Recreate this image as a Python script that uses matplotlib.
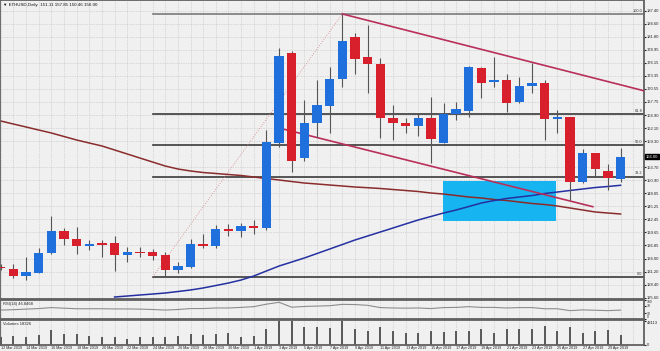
import numpy as np
import pandas as pd
import matplotlib
matplotlib.use("Agg")
import matplotlib.pyplot as plt
from matplotlib.patches import Rectangle

plt.rcParams["font.family"] = ["Liberation Sans", "DejaVu Sans"]

# ETHUSD daily, 12 Mar 2019 - 30 Apr 2019
dates = pd.date_range("2019-03-12", periods=50, freq="D")

opens = [132.28, 131.79, 130.35, 130.99, 135.17, 140.03, 138.18, 136.74, 137.32, 137.32,
         134.80, 135.51, 135.45, 134.80, 131.57, 132.28, 137.17, 136.74, 140.33, 140.00,
         141.00, 140.61, 158.98, 178.22, 155.75, 163.16, 166.88, 172.63, 181.80, 177.49,
         175.92, 164.23, 163.28, 162.57, 164.23, 158.98, 165.16, 165.87, 175.06, 172.05,
         172.48, 167.80, 171.18, 171.77, 164.15, 164.45, 150.58, 156.70, 152.95, 151.11]
highs = [132.86, 132.86, 134.44, 136.37, 143.20, 140.61, 140.83, 138.03, 138.03, 138.89,
         136.59, 136.59, 136.03, 135.51, 133.36, 138.18, 139.26, 141.26, 141.50, 141.60,
         142.40, 161.71, 179.30, 178.72, 168.17, 172.48, 175.34, 186.69, 182.53, 184.32,
         177.15, 167.09, 164.23, 165.31, 168.88, 167.46, 167.80, 175.49, 175.34, 177.36,
         173.77, 173.06, 176.07, 172.48, 166.02, 164.60, 157.56, 156.76, 154.33, 157.85]
lows = [131.57, 129.85, 129.42, 130.93, 135.10, 137.00, 135.02, 135.88, 134.44, 131.42,
        133.36, 134.44, 133.73, 130.13, 130.93, 132.00, 136.31, 136.31, 139.00, 138.60,
        139.30, 140.20, 158.12, 152.74, 155.10, 160.27, 161.00, 170.91, 173.77, 169.61,
        159.92, 159.56, 161.00, 160.42, 154.54, 158.85, 163.87, 164.58, 168.54, 170.90,
        165.65, 167.46, 169.74, 159.56, 161.13, 146.64, 150.37, 151.66, 148.79, 150.46]
closes = [131.94, 130.35, 131.08, 135.17, 140.03, 138.18, 136.74, 137.11, 137.02, 134.80,
          135.45, 135.30, 134.65, 131.57, 132.43, 137.17, 136.74, 140.33, 140.00, 141.00,
          140.60, 159.19, 177.64, 155.10, 163.16, 167.09, 172.69, 180.87, 177.00, 175.86,
          164.23, 163.28, 162.57, 164.23, 159.71, 165.16, 166.17, 175.21, 171.90, 172.48,
          167.46, 171.18, 171.77, 164.02, 164.45, 150.58, 156.70, 153.25, 151.44, 156.00]
volumes = [13150, 15600, 14370, 17430, 26600, 19260, 19260, 15600, 14370, 13150,
           9480, 13150, 13150, 14370, 15600, 19260, 17430, 19260, 20490, 14370,
           15600, 27830, 43113, 43113, 32720, 31500, 29660, 43113, 27830, 25380,
           32720, 25380, 21710, 21710, 25380, 22320, 25380, 25380, 27830, 20490,
           27830, 27830, 27830, 33940, 24770, 31500, 21710, 24770, 26600, 18326]
rsi = [47, 49, 52, 55, 60, 57, 54, 54, 54, 53, 53, 52, 50, 47, 50, 55, 55, 58, 58, 61,
       65, 78, 88, 62, 66, 68, 70, 77, 76, 72, 60, 58, 57, 58, 55, 60, 61, 65, 61, 61,
       58, 60, 60, 54, 54, 44, 48, 46, 44, 46.85]
ma_slow = [163.65, 163.00, 162.36, 161.71, 161.07, 160.31, 159.56, 158.91, 158.27, 157.41,
           156.55, 155.68, 154.82, 153.96, 153.32, 152.89, 152.56, 152.35, 152.13, 151.92,
           151.59, 151.27, 150.95, 150.62, 150.30, 150.09, 149.87, 149.66, 149.44, 149.29,
           149.12, 148.90, 148.69, 148.47, 148.15, 147.93, 147.61, 147.29, 147.07, 146.75,
           146.53, 146.21, 145.89, 145.67, 145.35, 144.92, 144.49, 144.06, 143.84, 143.63]
ma_fast = [np.nan] * 9 + [
    125.76, 125.97, 126.19, 126.40, 126.62, 126.94, 127.27, 127.70, 128.23, 128.77,
    129.42, 130.28, 131.36, 132.43, 133.29, 134.16, 135.12, 136.09, 137.06, 138.03,
    138.89, 139.75, 140.61, 141.48, 142.34, 143.09, 143.84, 144.49, 145.24, 146.00,
    146.53, 146.97, 147.29, 147.61, 148.04, 148.36, 148.69, 149.01, 149.33, 149.55, 149.81]

price_ticks = [187.40, 184.60, 181.80, 178.95, 176.15, 173.35, 170.55, 167.75, 164.90,
               162.10, 159.30, 153.70, 150.90, 148.05, 145.25, 142.45, 139.65, 136.85,
               134.00, 131.20, 128.40, 125.60]

# fibonacci from swing low to swing high
fib_t = [12, 27]
fib_p = [130.06, 186.70]
fib_levels = [0.0, 38.2, 50.0, 61.8, 100.0]
# channel lines
upper_t = [27, 51]
upper_p = [186.70, 170.05]
lower_t = [22.2, 46.8]
lower_p = [162.0, 145.2]
# zone box
box_t = [34.93, 43.89]
box_p = [142.2, 150.8]

W, H = 660, 351
bg = "#f0f0f0"
fig = plt.figure(figsize=(W / 100, H / 100), dpi=100, facecolor=bg)


def px_axes(x0, y0, x1, y1):
    return fig.add_axes([x0 / W, 1 - y1 / H, (x1 - x0) / W, (y1 - y0) / H])


ax = px_axes(0, 0, 644, 299)
ax_rsi = px_axes(0, 300, 644, 319)
ax_vol = px_axes(0, 320, 644, 345)

fs = 3.0
xlim = (-0.06, 50.85)
for a in (ax, ax_rsi, ax_vol):
    a.set_facecolor(bg)
    a.set_xlim(xlim)
    for s in a.spines.values():
        s.set_color("#606060")
        s.set_linewidth(1.3)
    for i in range(51):
        a.axvline(i, color="#bdbdbd", lw=0.5, ls=(0, (1, 1.5)), zorder=0)
    a.yaxis.tick_right()
    a.tick_params(axis="y", labelsize=fs, length=1.2, pad=0.8, colors="#222222")
    a.set_xticks([])

# main price panel
ax.set_ylim(125.33, 189.70)
ax.set_yticks(price_ticks)
ax.set_yticklabels(["%.2f" % p for p in price_ticks])
for p in price_ticks:
    ax.axhline(p, color="#bdbdbd", lw=0.5, ls=(0, (1, 1.5)), zorder=0)

x = np.arange(len(opens))
o = np.array(opens)
c = np.array(closes)
up = c >= o
bull, bear = "#1f6fdc", "#d8202c"
ax.vlines(x, lows, highs, color="#555555", lw=0.8, zorder=3)
body_h = np.maximum(np.abs(c - o), 0.25)
ax.bar(x, body_h, bottom=np.minimum(o, c), width=0.74,
       color=np.where(up, bull, bear), edgecolor="none", zorder=4)

# fibonacci levels
fib_range = fib_p[1] - fib_p[0]
for lv in fib_levels:
    y = fib_p[0] + fib_range * lv / 100
    col = "#7a7a7a" if lv == 100 else "#3a3a3a"
    ax.plot([fib_t[0], xlim[1]], [y, y], color=col, lw=1.2, zorder=2)
    ax.text(50.75, y + 0.25, "%.1f" % lv, ha="right", va="bottom", fontsize=2.8,
            color="#333333", zorder=6)
ax.plot(fib_t, fib_p, color="#d88080", lw=0.6, ls=(0, (1, 2)), zorder=2)

# zone box
ax.add_patch(Rectangle((box_t[0], box_p[0]), box_t[1] - box_t[0], box_p[1] - box_p[0],
                       facecolor="#16b4f0", edgecolor="none", zorder=1.5))

# moving averages
ax.plot(x, ma_slow, color="#8a2c2c", lw=1.1, zorder=2.5)
ax.plot(x, ma_fast, color="#2430a0", lw=1.1, zorder=2.5)

# trend channel
ax.plot(upper_t, upper_p, color="#b8305a", lw=1.2, zorder=2.6)
ax.plot(lower_t, lower_p, color="#b8305a", lw=1.2, zorder=2.6)

# current price marker
ax.text(1.003, closes[-1], "%.2f" % closes[-1], transform=ax.get_yaxis_transform(),
        ha="left", va="center", fontsize=fs, color="white", zorder=10, clip_on=False,
        bbox=dict(boxstyle="square,pad=0.12", facecolor="black", edgecolor="black"))

fig.text(3 / W, 1 - 5 / H, "\u25bc ETHUSD,Daily  151.11 157.85 150.46 156.00",
         fontsize=3.2, va="center", ha="left", color="#111111")

# RSI panel
ax_rsi.set_ylim(0, 100)
ax_rsi.plot(x, rsi, color="#8c8c8c", lw=0.8)
ax_rsi.set_yticks([100, 70, 30, 0])
ax_rsi.set_yticklabels(["100", "70", "30", "0"], fontsize=2.4)
rsi_labels = ax_rsi.get_yticklabels()
rsi_labels[0].set_va("top")
rsi_labels[-1].set_va("bottom")
ax_rsi.text(0.005, 0.8, "RSI(14) 46.8468", transform=ax_rsi.transAxes,
            fontsize=fs, va="center", color="#222222")

# volume panel
ax_vol.set_ylim(-917, 44948)
ax_vol.vlines(x, 0, volumes, color="#303030", lw=1.1)
ax_vol.set_yticks([43113, 0])
ax_vol.set_yticklabels(["43113", "0"])
ax_vol.get_yticklabels()[0].set_va("top")
ax_vol.text(0.005, 0.84, "Volumes 18326", transform=ax_vol.transAxes,
            fontsize=fs, va="center", color="#222222")
ax_vol.set_xticks(x[::2])
ax_vol.set_xticklabels(["%d %s" % (d.day, d.strftime("%b %Y")) for d in dates[::2]],
                       fontsize=2.7, ha="left")
ax_vol.tick_params(axis="x", length=0, pad=1.0, colors="#222222")

fig.savefig("out.png", dpi=100, facecolor=bg)
